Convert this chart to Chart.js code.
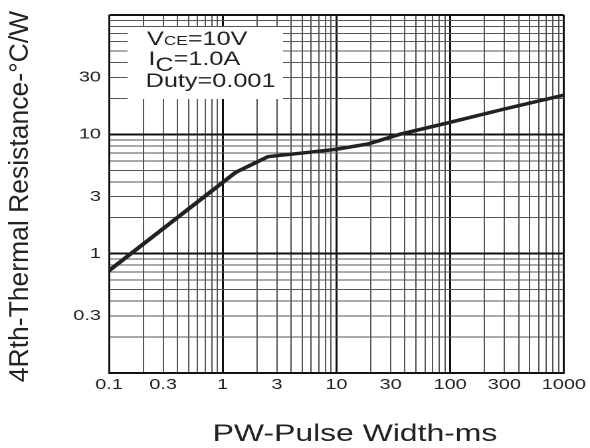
<!DOCTYPE html>
<html>
<head>
<meta charset="utf-8">
<script src="https://cdn.jsdelivr.net/npm/chart.js@4.4.1/dist/chart.umd.min.js"></script>
<style>
  html, body { margin: 0; padding: 0; background: #fff; overflow: hidden; }
  /* the sheet is drawn narrow and stretched sideways, like the scanned datasheet */
  #wrap { width: 444px; height: 448px; transform: scaleX(1.3288); transform-origin: 0 0; }
</style>
</head>
<body>
<div id="wrap"><canvas id="chart" width="444" height="448"></canvas></div>
<script>
const STRETCH = 590 / 444;

// pulse width (ms) and thermal resistance (C/W)
const pulseWidth = [0.1, 1.3, 2.5, 5.6, 10, 19, 36, 100, 300, 1000];
const rthValues = [0.72, 4.8, 6.5, 7.05, 7.5, 8.3, 10, 12.6, 16.3, 21.3];

const xTickLabels = [0.1, 0.3, 1, 3, 10, 30, 100, 300, 1000];
const yTickLabels = [0.3, 1, 3, 10, 30];

const noteLines = [
  [['V', 19, 0], ['CE', 13, 0], ['=10V', 19, 0]],
  [['I', 19, 0], ['C', 19, 6], ['=1.0A', 19, 0]],
  [['Duty=0.001', 19, 0]]
];

const FONT = "'Liberation Sans', Arial, sans-serif";
const INK = '#222';

const near = (a, b) => Math.abs(Math.log10(a) - Math.log10(b)) < 1e-6;
const isDecade = v => Math.abs(Math.log10(v) - Math.round(Math.log10(v))) < 1e-6;
const isWhole = v => {
  const s = v / Math.pow(10, Math.floor(Math.log10(v) + 1e-9));
  return Math.abs(s - Math.round(s)) < 1e-6;
};

// log scale adds 1.5, 15, 150... ticks; the sheet has only 1..9 per decade
const dropHalfSteps = scale => {
  scale.ticks = scale.ticks.filter(t => isWhole(t.value));
};

const labelFor = list => value => list.some(t => near(value, t)) ? String(value) : '';

const gridColor = c => isDecade(c.tick.value) ? '#111' : '#555';

const sheetText = {
  id: 'sheetText',
  afterDraw(chart) {
    const { ctx, chartArea: a } = chart;
    ctx.save();

    // condition box
    ctx.fillStyle = '#fff';
    ctx.fillRect(a.left + 14, a.top + 12, 117, 72);

    ctx.fillStyle = INK;
    ctx.textBaseline = 'alphabetic';
    ctx.textAlign = 'left';
    const starts = [[110.6, 45], [111.6, 65], [109.6, 87]];
    noteLines.forEach((parts, i) => {
      let x = starts[i][0];
      parts.forEach(([txt, size, drop]) => {
        ctx.font = size + 'px ' + FONT;
        ctx.fillText(txt, x, starts[i][1] + drop);
        x += ctx.measureText(txt).width;
      });
    });

    // x title
    ctx.font = '24px ' + FONT;
    ctx.textAlign = 'center';
    ctx.fillText('PW-Pulse Width-ms', 355 / STRETCH, 441);

    // y title, drawn un-stretched
    ctx.translate(28 / STRETCH, 196.5);
    ctx.scale(1 / STRETCH, 1);
    ctx.rotate(-Math.PI / 2);
    ctx.font = '26.5px ' + FONT;
    ctx.fillText('4Rth-Thermal Resistance-°C/W', 0, 0);

    ctx.restore();
  }
};

new Chart(document.getElementById('chart'), {
  type: 'line',
  data: {
    datasets: [{
      data: pulseWidth.map((x, i) => ({ x: x, y: rthValues[i] })),
      borderColor: INK,
      borderWidth: 3.5,
      pointRadius: 0,
      tension: 0,
      fill: false
    }]
  },
  options: {
    responsive: false,
    animation: false,
    devicePixelRatio: 2,
    layout: { padding: { top: 14, right: 16, left: 0, bottom: 0 } },
    scales: {
      x: {
        type: 'logarithmic',
        min: 0.1,
        max: 1000,
        afterBuildTicks: dropHalfSteps,
        afterFit: s => { s.height = 75; },
        grid: {
          color: gridColor,
          lineWidth: c => isDecade(c.tick.value) ? 1.5 : 1,
          drawTicks: false
        },
        border: { display: true, color: '#111', width: 1.5 },
        ticks: {
          autoSkip: false,
          maxRotation: 0,
          minRotation: 0,
          padding: 3,
          color: INK,
          font: { family: FONT, size: 15 },
          callback: labelFor(xTickLabels)
        }
      },
      y: {
        type: 'logarithmic',
        min: 0.1,
        max: 100,
        afterBuildTicks: dropHalfSteps,
        afterFit: s => { s.width = 82; },
        grid: {
          color: gridColor,
          lineWidth: c => isDecade(c.tick.value) ? 2 : 1,
          drawTicks: false
        },
        border: { display: true, color: '#111', width: 1.5 },
        ticks: {
          autoSkip: false,
          padding: 6,
          color: INK,
          font: { family: FONT, size: 15 },
          callback: labelFor(yTickLabels)
        }
      }
    },
    plugins: {
      legend: { display: false },
      tooltip: { enabled: false }
    }
  },
  plugins: [sheetText]
});
</script>
</body>
</html>
